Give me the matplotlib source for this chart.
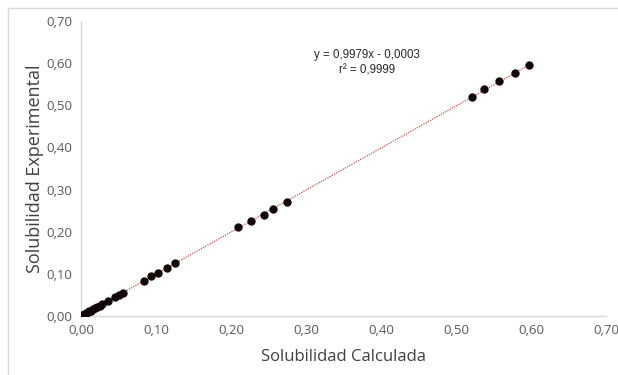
import matplotlib.pyplot as plt
import matplotlib.ticker as mticker
import numpy as np

# solubilidad calculada vs experimental
calculada = [0.001, 0.002, 0.003, 0.005, 0.007, 0.009, 0.011, 0.013, 0.016, 0.019, 0.022, 0.025,
             0.028, 0.036, 0.045, 0.051, 0.056, 0.084, 0.094, 0.103, 0.114, 0.125,
             0.209, 0.226, 0.244, 0.256, 0.274,
             0.521, 0.537, 0.557, 0.579, 0.597]
experimental = [0.001, 0.002, 0.003, 0.005, 0.007, 0.009, 0.011, 0.013, 0.016, 0.019, 0.022, 0.025,
                0.028, 0.036, 0.045, 0.051, 0.056, 0.084, 0.094, 0.103, 0.114, 0.125,
                0.211, 0.225, 0.240, 0.255, 0.271,
                0.519, 0.538, 0.557, 0.576, 0.595]
ticks = [0.0, 0.1, 0.2, 0.3, 0.4, 0.5, 0.6, 0.7]

plt.rcParams['font.family'] = ['Open Sans', 'DejaVu Sans']

fig = plt.figure(figsize=(6.18, 3.75), dpi=100)
ax = fig.add_axes([0.131, 0.157, 0.85, 0.787])

# chart area border (only left/top visible in the image)
fig.add_artist(plt.Rectangle((8 / 618, -0.1), 1.2, 1 - 8 / 375 + 0.1, transform=fig.transFigure,
                             fill=False, edgecolor='#d9d9d9', linewidth=1))

x = np.array(calculada)
y = np.array(experimental)
m, b = np.polyfit(x, y, 1)
xl = np.array([0, x.max()])
ax.plot(xl, m * xl + b, linestyle=(0, (1, 1)), color='#c0504d', linewidth=0.9, zorder=2)
ax.plot(x, y, 'o', color='#120808', markersize=5, zorder=3)

ax.text(0.381, 0.600, 'y = 0,9979x - 0,0003\nr² = 0,9999', ha='center', va='center',
        fontsize=8.3, family=['Liberation Sans'], color='#262626', linespacing=1.4)

ax.set_xlim(0, 0.7)
ax.set_ylim(0, 0.7)
ax.set_xticks(ticks)
ax.set_yticks(ticks)
fmt = mticker.FuncFormatter(lambda v, p: f'{v:.2f}'.replace('.', ','))
ax.xaxis.set_major_formatter(fmt)
ax.yaxis.set_major_formatter(fmt)
ax.tick_params(length=0, labelsize=9.5, colors='#595959', pad=6)

for s in ['top', 'right']:
    ax.spines[s].set_visible(False)
for s in ['left', 'bottom']:
    ax.spines[s].set_color('#d9d9d9')
    ax.spines[s].set_linewidth(1)

ax.set_xlabel('Solubilidad Calculada', fontsize=12, color='#404040', labelpad=8)
ax.set_ylabel('Solubilidad Experimental', fontsize=13, color='#404040', labelpad=2)

plt.savefig('out.png', dpi=100)
